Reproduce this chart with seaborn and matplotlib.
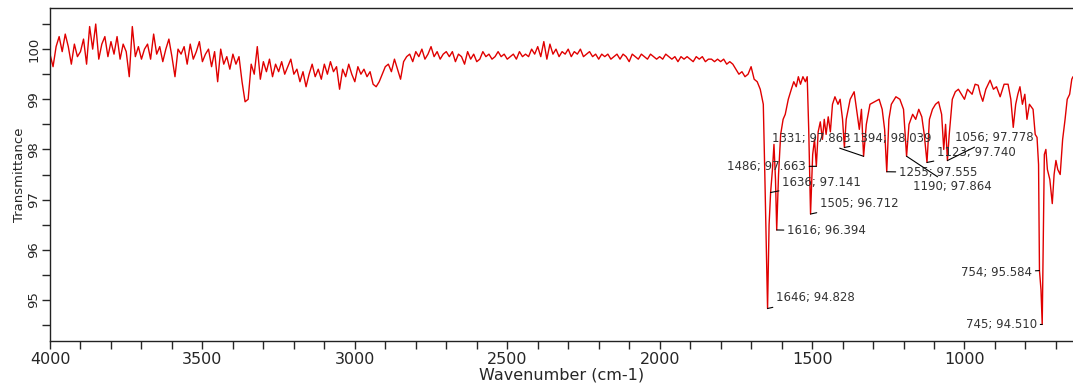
import numpy as np
import matplotlib
matplotlib.use("Agg")
import matplotlib.pyplot as plt
from matplotlib.ticker import MultipleLocator
import seaborn as sns

# noisy baseline, read every 10 cm-1 from 4000 down to 1660
noisy_wn = list(range(4000, 1650, -10))
noisy_t = [
    99.9, 99.65, 100.05, 100.25, 99.95, 100.3, 100.05, 99.7, 100.1, 99.85,
    99.95, 100.2, 99.7, 100.45, 100.0, 100.5, 99.8, 100.1, 100.25, 99.85,
    100.15, 99.9, 100.25, 99.8, 100.1, 99.95, 99.45, 100.45, 99.85, 100.05,
    99.8, 100.0, 100.1, 99.8, 100.3, 99.9, 100.05, 99.75, 100.0, 100.2,
    99.85, 99.45, 100.0, 99.9, 100.05, 99.7, 100.1, 99.8, 99.95, 100.15,
    99.75, 99.9, 100.0, 99.65, 99.95, 99.35, 100.0, 99.7, 99.85, 99.6,
    99.9, 99.7, 99.85, 99.35, 98.95, 99.0, 99.7, 99.5, 100.05, 99.4,
    99.75, 99.55, 99.8, 99.45, 99.7, 99.55, 99.75, 99.5, 99.65, 99.8,
    99.5, 99.6, 99.35, 99.55, 99.25, 99.5, 99.7, 99.45, 99.6, 99.4,
    99.7, 99.5, 99.75, 99.55, 99.65, 99.2, 99.6, 99.45, 99.7, 99.5,
    99.35, 99.65, 99.5, 99.6, 99.45, 99.55, 99.3, 99.25, 99.35, 99.5,
    99.65, 99.7, 99.55, 99.8, 99.6, 99.4, 99.75, 99.85, 99.9, 99.75,
    99.95, 99.85, 100.0, 99.8, 99.9, 100.05, 99.85, 99.95, 99.8, 99.9,
    99.95, 99.85, 99.95, 99.75, 99.9, 99.85, 99.7, 99.95, 99.8, 99.9,
    99.75, 99.8, 99.95, 99.85, 99.9, 99.8, 99.85, 99.95, 99.85, 99.9,
    99.8, 99.85, 99.9, 99.8, 99.95, 99.85, 99.9, 99.85, 100.0, 99.9,
    100.05, 99.85, 100.15, 99.8, 100.1, 99.9, 100.0, 99.85, 99.95, 99.9,
    100.0, 99.85, 99.95, 99.9, 100.0, 99.85, 99.9, 99.95, 99.85, 99.9,
    99.8, 99.9, 99.85, 99.9, 99.8, 99.85, 99.9, 99.8, 99.9, 99.85,
    99.75, 99.9, 99.85, 99.8, 99.9, 99.85, 99.8, 99.9, 99.85, 99.8,
    99.85, 99.8, 99.9, 99.85, 99.8, 99.85, 99.75, 99.85, 99.8, 99.85,
    99.8, 99.75, 99.85, 99.8, 99.85, 99.75, 99.8, 99.8, 99.75, 99.8,
    99.75, 99.8, 99.7, 99.75, 99.7, 99.6, 99.5, 99.55, 99.45, 99.5,
    99.65, 99.4, 99.35, 99.2, 98.9,
]

# fingerprint region, read point by point
band_wn = [
    1655, 1646, 1641, 1636, 1630, 1625, 1620, 1616, 1610, 1603,
    1595, 1588, 1578, 1568, 1560, 1552, 1545, 1538, 1530, 1522,
    1516, 1511, 1505, 1498, 1492, 1486, 1480, 1473, 1466, 1460,
    1454, 1447, 1440, 1433, 1425, 1415, 1408, 1400, 1394, 1388,
    1375, 1362, 1352, 1345, 1338, 1331, 1322, 1310, 1295, 1280,
    1270, 1262, 1255, 1248, 1240, 1225, 1212, 1200, 1190, 1182,
    1170, 1160, 1150, 1140, 1132, 1123, 1115, 1105, 1095, 1085,
    1075, 1068, 1062, 1056, 1050, 1040, 1030, 1020, 1010, 1000,
    990, 975, 965, 955, 948, 940, 930, 916, 905, 895,
    883, 870, 857, 848, 840, 832, 825, 818, 810, 802,
    795, 787, 775, 768, 762, 757, 754, 749, 745, 742,
    738, 733, 728, 720, 712, 706, 700, 694, 686, 678,
    670, 663, 655, 648, 644,
]
band_t = [
    97.5, 94.828, 96.5, 97.141, 97.6, 98.1, 97.4, 96.394, 97.5, 98.3,
    98.6, 98.7, 99.0, 99.2, 99.35, 99.25, 99.45, 99.3, 99.45, 99.35,
    99.45, 98.4, 96.712, 97.9, 98.2, 97.663, 98.35, 98.55, 98.2, 98.6,
    98.3, 98.65, 98.35, 98.9, 99.05, 98.9, 99.0, 98.6, 98.039, 98.6,
    99.0, 99.15, 98.7, 98.4, 98.8, 97.863, 98.5, 98.9, 98.95, 99.0,
    98.8, 98.4, 97.555, 98.6, 98.9, 99.05, 99.0, 98.8, 97.864, 98.5,
    98.7, 98.6, 98.8, 98.65, 98.3, 97.74, 98.6, 98.8, 98.9, 98.95,
    98.7, 98.0, 98.5, 97.778, 98.3, 99.0, 99.15, 99.2, 99.1, 99.0,
    99.2, 99.1, 99.3, 99.28, 99.1, 98.96, 99.2, 99.38, 99.2, 99.25,
    99.05, 99.3, 99.3, 99.0, 98.44, 98.9, 99.1, 99.25, 98.9, 99.1,
    98.6, 98.9, 98.8, 98.3, 98.24, 97.7, 95.584, 95.2, 94.51, 96.0,
    97.9, 98.0, 97.6, 97.4, 96.92, 97.5, 97.78, 97.6, 97.5, 98.2,
    98.6, 99.0, 99.1, 99.4, 99.45,
]

wavenumber = noisy_wn + band_wn
transmittance = noisy_t + band_t

y_ticks = [95, 96, 97, 98, 99, 100]

# labelled peaks
peak_wn = [1646, 1636, 1616, 1505, 1486, 1394, 1331, 1255, 1190, 1123, 1056, 754, 745]
peak_t = [94.828, 97.141, 96.394, 96.712, 97.663, 98.039, 97.863, 97.555, 97.864,
          97.740, 97.778, 95.584, 94.510]
# where each label sits (wavenumber, transmittance, horizontal alignment)
label_pos = [
    (1618, 95.04, "left"), (1598, 97.34, "left"), (1582, 96.38, "left"),
    (1474, 96.92, "left"), (1520, 97.66, "right"), (1365, 98.22, "left"),
    (1375, 98.22, "right"), (1215, 97.54, "left"), (1169, 97.26, "left"),
    (1090, 97.94, "left"), (1031, 98.24, "left"), (778, 95.54, "right"),
    (762, 94.50, "right"),
]

sns.set_style("ticks")
plt.rcParams["font.family"] = ["DejaVu Sans"]

fig = plt.figure(figsize=(10.73, 3.83), dpi=100)
ax = fig.add_axes([50 / 1073, 42 / 383, 1023 / 1073, 333 / 383])

sns.lineplot(x=wavenumber, y=transmittance, sort=False, estimator=None,
             color="#e00000", linewidth=1.0, ax=ax)

for w, t, (tx, ty, ha) in zip(peak_wn, peak_t, label_pos):
    ax.annotate(f"{w}; {t:.3f}", xy=(w, t), xytext=(tx, ty), ha=ha, va="center",
                fontsize=8.5, color="#333333",
                arrowprops=dict(arrowstyle="-", color="black", lw=0.8,
                                shrinkA=0, shrinkB=0))

ax.set_xlim(4000, 644)
ax.set_ylim(94.18, 100.82)
ax.xaxis.set_major_locator(MultipleLocator(500))
ax.xaxis.set_minor_locator(MultipleLocator(100))
ax.set_yticks(y_ticks)
ax.set_yticklabels([str(v) for v in y_ticks], rotation=90, va="center", fontsize=9.5)
ax.yaxis.set_minor_locator(MultipleLocator(0.5))
ax.tick_params(axis="x", which="both", length=6, width=1, labelsize=11.5, pad=2)
ax.tick_params(axis="y", which="both", length=6, width=1, pad=1)

ax.set_xlabel("Wavenumber (cm-1)", fontsize=11.5, labelpad=0)
ax.set_ylabel("Transmittance", fontsize=9.5, labelpad=1)
ax.spines["right"].set_visible(False)
for s in ["left", "bottom", "top"]:
    ax.spines[s].set_color("#222222")
    ax.spines[s].set_linewidth(1.0)

fig.savefig("out.png", dpi=100)
